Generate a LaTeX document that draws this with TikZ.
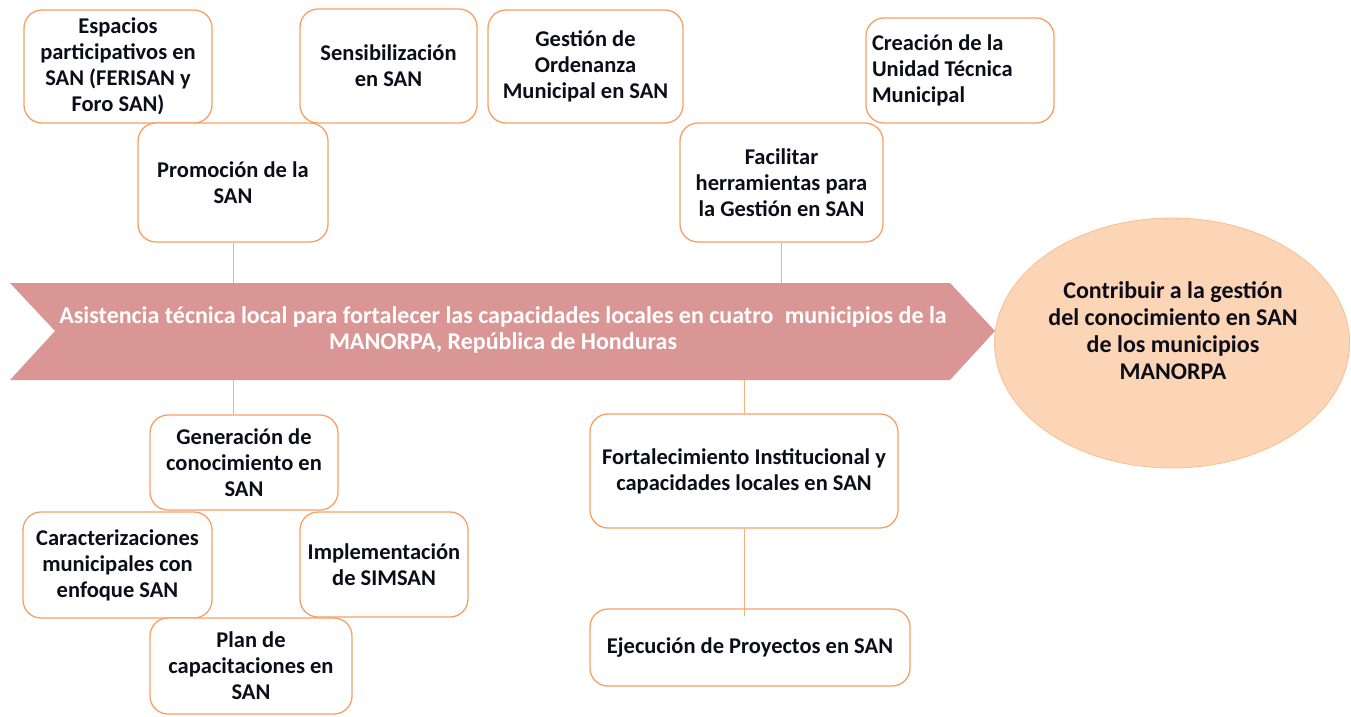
\documentclass[tikz,border=0pt]{standalone}
\usepackage{fontspec}
\setmainfont{Carlito}
\usetikzlibrary{calc,shapes.geometric}
\definecolor{boxc}{HTML}{F7A066}
\definecolor{connc}{HTML}{F5B07E}
\definecolor{chevc}{HTML}{D99694}
\definecolor{ellfill}{HTML}{FBD5B5}
\definecolor{elldraw}{HTML}{F9BF8F}
\definecolor{txtc}{HTML}{0D0D1A}
\tikzset{
  box/.style={draw=boxc, line width=1.3pt, fill=white, rounded corners=18pt,
    align=center, inner sep=0pt, text=txtc,
    font=\fontsize{22.5}{26}\selectfont\bfseries},
  conn/.style={draw=connc, line width=1pt},
  chevtext/.style={align=center, text=white, inner sep=0pt,
    font=\fontsize{24}{26}\selectfont\bfseries},
  goaltext/.style={align=center, text=txtc, inner sep=0pt,
    font=\fontsize{24}{27}\selectfont\bfseries}
}
\begin{document}
\begin{tikzpicture}[x=1pt,y=-1pt]
\useasboundingbox (0,0) rectangle (1351,716);
% chevron
\coordinate (chevtop) at (10,283);
\coordinate (chevbot) at (10,380);
\fill[chevc] (10,283) -- (950,283) -- (995,331) -- (950,380) -- (10,380) -- (55,331) -- cycle;
\node[chevtext] (chev) at (503,330) {Asistencia técnica local para fortalecer las capacidades locales en cuatro\hspace{0.25em} municipios de la\\MANORPA, República de Honduras};
% goal ellipse
\node[ellipse, fill=ellfill, draw=elldraw, line width=0.8pt, minimum width=355pt, minimum height=250pt, inner sep=0pt] (goal) at (1172,343) {};
\node[goaltext] (goaltxt) at (1173,330.5) {Contribuir a la gestión\\del conocimiento en SAN\\de los municipios\\MANORPA};
% top boxes
\node[box, minimum width=188pt, minimum height=113pt] (esp) at (118,66.5) {Espacios\\participativos en\\SAN (FERISAN y\\Foro SAN)};
\node[box, minimum width=177pt, minimum height=114pt] (sens) at (388.5,66) {Sensibilización\\en SAN};
\node[box, minimum width=190pt, minimum height=119pt] (prom) at (233,182.5) {Promoción de la\\SAN};
\node[box, minimum width=195pt, minimum height=113pt] (gest) at (585.5,66.5) {Gestión de\\Ordenanza\\Municipal en SAN};
\node[box, minimum width=188pt, minimum height=105pt, align=flush left, text width=176pt, inner xsep=6pt] (crea) at (960,70.5) {Creación de la\\Unidad Técnica\\Municipal};
\node[box, minimum width=203pt, minimum height=119pt] (faci) at (781.5,182.5) {Facilitar\\herramientas para\\la Gestión en SAN};
% bottom boxes
\node[box, minimum width=188pt, minimum height=95pt] (gen) at (244,462.5) {Generación de\\conocimiento en\\SAN};
\node[box, minimum width=189pt, minimum height=106pt] (car) at (117.5,565) {Caracterizaciones\\municipales con\\enfoque SAN};
\node[box, minimum width=168pt, minimum height=105pt] (imp) at (384,564.5) {Implementación\\de SIMSAN};
\node[box, minimum width=202pt, minimum height=96pt] (plan) at (251,666) {Plan de\\capacitaciones en\\SAN};
\node[box, minimum width=308pt, minimum height=114pt] (fort) at (744,471) {Fortalecimiento Institucional y\\capacidades locales en SAN};
\node[box, minimum width=320pt, minimum height=77pt] (ejec) at (750,647.5) {Ejecución de Proyectos en SAN};
% connectors
\draw[conn] (prom.south) -- (prom.south |- chevtop);
\draw[conn] (faci.south) -- (faci.south |- chevtop);
\draw[conn] (gen.north -| prom.south) -- (prom.south |- chevbot);
\draw[conn] (fort.north) -- (fort.north |- chevbot);
\draw[conn] (fort.south) -- ($(fort.south |- ejec.north)+(0,8)$);
\end{tikzpicture}
\end{document}
